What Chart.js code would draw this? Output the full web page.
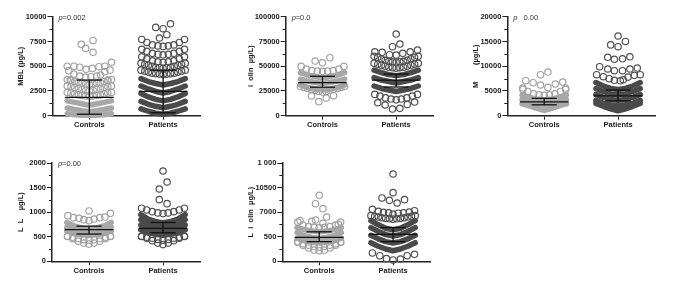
<!DOCTYPE html>
<html>
<head>
<meta charset="utf-8">
<script src="https://cdn.jsdelivr.net/npm/chart.js@4/dist/chart.umd.min.js"></script>
<style>
html,body{margin:0;padding:0;background:#fff;overflow:hidden;}
#wrap{position:relative;width:685px;height:283px;}
canvas{position:absolute;}
</style>
</head>
<body>
<div id="wrap"></div>
<script>
// ── SHARED ──
const groups = ['Controls','Patients'];
const openX = [0,.07,.145,.22,.29];               // half swarm, mirrored when built
const denseX = [0,.05,.1,.15,.2,.25,.3];
const bandX = [0,.1,.2,.3];

// ── MBL ──
const mblTicks = [0,2500,5000,7500,10000];
const mblTickLabels = ['0','2500','5000','7500','10000'];
const mblMinor = [1250,3750,6250,8750];
const mblMedian = [1850,2450], mblQ1 = [150,300], mblQ3 = [3600,4600];
const mblCtrlLoose = [[-.11,7200],[-.05,6800],[.05,7600],[.05,6400],[-.3,5000],[-.21,5000],[-.13,4900],[-.045,4680],[.04,4780],[.13,4950],[.21,5000],[.3,5400],[-.28,4550],[.28,4600],[.21,4450],[-.21,4200],[-.13,4000],[-.05,3870],[.02,3940],[.1,4000],[.15,4100],[-.26,3600],[.25,3600]];
const mblCtrlOpen = [];
const mblCtrlDense = [[3150,3200,3300,3350,3450,3550,3650],[2500,2550,2650,2750,2850,2950,3000],[1950,2000,2050,2100,2200,2300,2350]];
const mblCtrlBands = [[1050,1200,1350,1500],[400,500,620,780],[50,50,100,200]];
const mblPatLoose = [[-.1,8920],[0,8790],[.1,9290],[-.05,7850],[.05,8180]];
const mblPatOpen = [[7000,7050,7150,7400,7700],[6150,6200,6300,6500,6700],[5400,5450,5550,5750,5950]];
const mblPatDense = [[4800,4850,4900,5000,5100,5200,5300],[4150,4200,4250,4300,4400,4500,4600]];
const mblPatBands = [[3100,3250,3450,3750],[2300,2450,2700,3000],[1500,1650,1900,2250],[800,950,1150,1450],[150,250,450,700]];

// ── second panel ──
const p2Ticks = [0,25000,50000,75000,100000];
const p2TickLabels = ['0','25000','50000','75000','100000'];
const p2Minor = [12500,37500,62500,87500];
const p2Median = [33500,36000], p2Q1 = [28800,29000], p2Q3 = [39800,42000];
const p2CtrlLoose = [[-.1,55200],[0,53500],[.1,58600],[-.15,20000],[.05,17900],[.15,20200],[-.05,14200]];
const p2CtrlOpen = [[44800,45000,45500,47000,49800]];
const p2CtrlDense = [[24000,24500,25500,26500,27500,28500,29500]];
const p2CtrlBands = [[38000,39500,41000,43500],[32500,33500,35000,37000],[26000,27000,28500,31000]];
const p2PatLoose = [[0,82500],[-.05,69700],[.05,72400],[-.29,64600],[-.19,64000],[-.09,61600],[0,61300],[.09,63000],[.19,64600],[.29,66300],[-.25,13100],[-.15,10800],[-.05,6700],[.05,7400],[.15,11400],[.25,13800]];
const p2PatOpen = [[16000,16800,18000,19800,21500]];
const p2PatDense = [[54000,54500,55000,56000,57500,59000,60000],[48000,48500,49000,50000,51000,52000,53000]];
const p2PatBands = [[40500,41500,43500,46000],[33000,34500,36000,38500],[24500,26000,27500,30000]];

// ── third panel ──
const p3Ticks = [0,5000,10000,15000,20000];
const p3TickLabels = ['0','5000','10000','15000','20000'];
const p3Minor = [2500,7500,12500,17500];
const p3Median = [2780,4000], p3Q1 = [2200,3000], p3Q3 = [3500,5200];
const p3CtrlLoose = [[-.05,8280],[.05,8820],[-.25,7070],[-.15,6670],[-.05,6200],[.05,5720],[.15,6400],[.25,6800],[-.29,5590],[.29,5590]];
const p3CtrlOpen = [[4100,4200,4400,4900,5300]];
const p3CtrlDense = [];
const p3CtrlBands = [[3200,3400,3700,4200],[2300,2500,2800,3300],[1100,1500,2000,2400]];
const p3PatLoose = [[0,16100],[-.1,14300],[0,13940],[.1,15000],[-.14,11800],[-.05,11400],[.06,11500],[.16,11900],[-.25,9900],[-.14,9430],[-.05,9090],[.06,9090],[.16,9430],[.26,9630],[-.29,8280],[-.2,7880],[-.12,7470],[-.05,7150],[.03,7050],[.07,7250],[.135,7800],[.22,8150],[.3,8280]];
const p3PatOpen = [];
const p3PatDense = [];
const p3PatBands = [[5300,5500,6000,6700],[4200,4400,4900,5500],[3100,3300,3700,4300],[2000,2200,2500,3100],[1000,1400,1900,2500]];

// ── fourth panel ──
const p4Ticks = [0,500,1000,1500,2000];
const p4TickLabels = ['0','500','1000','1500','2000'];
const p4Minor = [250,750,1250,1750];
const p4Median = [645,670], p4Q1 = [555,580], p4Q3 = [715,790];
const p4CtrlLoose = [[0,1024],[-.285,929],[-.21,888],[-.135,875],[-.07,847],[0,827],[.07,861],[.145,888],[.215,900],[.29,976]];
const p4CtrlOpen = [[350,370,410,460,505],[430,440,465,490,510]];
const p4CtrlDense = [];
const p4CtrlBands = [[660,680,720,790],[590,610,640,700],[530,540,570,620]];
const p4PatLoose = [[0,1837],[.055,1613],[-.05,1471],[-.05,1254],[.055,1173]];
const p4PatOpen = [[970,985,1010,1045,1080],[340,370,420,470,505],[430,445,470,490,510]];
const p4PatDense = [];
const p4PatBands = [[780,810,860,950],[690,720,770,850],[610,630,670,740],[530,550,580,640]];

// ── fifth panel ──
const p5Ticks = [0,3500,7000,10500,14000];
const p5TickLabels = ['0','500','7000','10500','1 000'];
const p5Minor = [1750,5250,8750,12250];
const p5Median = [3400,3840], p5Q1 = [2800,2800], p5Q3 = [4200,4800];
const p5CtrlLoose = [[0,9400],[-.05,8200],[.05,7500],[.1,6300],[-.1,5700],[-.05,5880],[.05,5400],[-.26,5790],[.26,5270]];
const p5CtrlOpen = [[4800,4850,4950,5150,5600],[1500,1600,1900,2300,2700],[2000,2100,2300,2500,2750]];
const p5CtrlDense = [];
const p5CtrlBands = [[4200,4300,4500,4800],[3300,3400,3650,4100],[2600,2700,2900,3300]];
const p5PatLoose = [[0,12430],[0,9780],[-.15,9020],[-.05,8680],[.055,8300],[.155,8780],[-.28,7400],[-.2,7120],[-.13,6980],[-.06,6900],[0,6720],[.07,6850],[.14,6900],[.22,7000],[.29,7210],[-.28,1190],[-.18,800],[-.09,380],[0,190],[.1,330],[.19,800],[.29,1000]];
const p5PatOpen = [];
const p5PatDense = [[6000,6050,6100,6200,6300,6400,6500]];
const p5PatBands = [[4500,4700,5200,5800],[3600,3800,4250,4800],[2600,2800,3200,3700],[1500,1750,2150,2650]];

// ── BUILD ──
function mirror(xs, half, cx){
  const pts = [];
  for(let i=xs.length-1;i>0;i--) pts.push({x:cx-xs[i],y:half[i]});
  for(let i=0;i<xs.length;i++) pts.push({x:cx+xs[i],y:half[i]});
  return pts;
}
function seg(x0,y0,x1,y1){
  return {type:'scatter',data:[{x:x0,y:y0},{x:x1,y:y1}],showLine:true,borderColor:'#111',borderWidth:1.3,pointRadius:0,clip:false};
}
function groupSets(i, s, loose, open, dense, bands){
  const cx = i+1;
  const col = i ? '#4a4a4a' : '#a8a8a8';
  const ring = i ? '#505050' : '#a2a2a2';
  const circle = {type:'scatter',pointRadius:3.2,pointBorderWidth:1.2,pointBorderColor:ring,pointBackgroundColor:'rgba(255,255,255,0)',showLine:false,clip:false};
  const sets = [
    seg(cx-.33,s.median[i],cx+.33,s.median[i]),
    seg(cx-.17,s.q3[i],cx+.17,s.q3[i]),
    seg(cx-.17,s.q1[i],cx+.17,s.q1[i]),
    seg(cx,s.q1[i],cx,s.q3[i])
  ];
  sets.push({...circle,data:loose.map(p=>({x:cx+p[0],y:p[1]}))});
  open.forEach(r=>sets.push({...circle,data:mirror(openX,r,cx)}));
  dense.forEach(r=>sets.push({...circle,data:mirror(denseX,r,cx)}));
  bands.forEach(r=>sets.push({type:'scatter',data:mirror(bandX,r,cx),showLine:true,borderColor:col,borderWidth:5.5,borderCapStyle:'round',borderJoinStyle:'round',pointRadius:0,clip:false}));
  return sets;
}

const axisPlugin = {
  id:'panelExtras',
  afterDraw(chart){
    const o = chart.options.plugins.panelExtras;
    const c = chart.ctx, y = chart.scales.y, a = chart.chartArea;
    c.save();
    c.strokeStyle = '#222'; c.lineWidth = 1;
    o.minor.forEach(v=>{
      const py = Math.round(y.getPixelForValue(v))+.5;
      c.beginPath(); c.moveTo(a.left-3,py); c.lineTo(a.left,py); c.stroke();
    });
    if(o.p){
      c.fillStyle = '#333'; c.textBaseline = 'middle';
      c.font = 'italic 7.5px "Liberation Sans"';
      c.fillText('p', a.left+o.px, a.top+1);
      c.font = '7.5px "Liberation Sans"';
      c.fillText(o.p, a.left+o.px+4, a.top+1);
    }
    c.restore();
  }
};

function panel(o){
  const cv = document.createElement('canvas');
  cv.width = o.w; cv.height = o.h;
  cv.style.left = o.left+'px'; cv.style.top = o.top+'px';
  document.getElementById('wrap').appendChild(cv);
  const bold = {family:'"Liberation Sans"',size:7.5,weight:'bold'};
  new Chart(cv,{
    data:{datasets:o.sets},
    plugins:[axisPlugin],
    options:{
      responsive:false,animation:false,devicePixelRatio:1,
      layout:{padding:{top:o.y1-o.top,right:o.left+o.w-o.x1,left:0,bottom:0}},
      plugins:{legend:{display:false},tooltip:{enabled:false},panelExtras:{minor:o.minor,p:o.p,px:o.px||6}},
      scales:{
        x:{type:'linear',min:.5,max:2.5,
          afterBuildTicks(s){s.ticks=[{value:1},{value:2}];},
          afterFit(s){s.height=o.top+o.h-o.y0;},
          border:{color:'#222',width:1.5},
          grid:{drawOnChartArea:false,tickLength:4,tickColor:'#222'},
          ticks:{color:'#1a1a1a',font:bold,padding:1,maxRotation:0,autoSkip:false,callback:v=>groups[v-1]}
        },
        y:{type:'linear',min:o.ticks[0],max:o.ticks[o.ticks.length-1],
          afterBuildTicks(s){s.ticks=o.ticks.map(v=>({value:v}));},
          afterFit(s){s.width=o.x0-o.left;},
          border:{color:'#222',width:1.5},
          grid:{drawOnChartArea:false,tickLength:5,tickColor:'#222'},
          ticks:{color:'#1a1a1a',font:bold,padding:1,autoSkip:false,callback:v=>o.labels[o.ticks.indexOf(v)]},
          title:{display:true,text:o.title,color:'#1a1a1a',font:bold,padding:{top:o.titlePad,bottom:0}}
        }
      }
    }
  });
}

const s1 = {median:mblMedian,q1:mblQ1,q3:mblQ3};
const s2 = {median:p2Median,q1:p2Q1,q3:p2Q3};
const s3 = {median:p3Median,q1:p3Q1,q3:p3Q3};
const s4 = {median:p4Median,q1:p4Q1,q3:p4Q3};
const s5 = {median:p5Median,q1:p5Q1,q3:p5Q3};

panel({left:0,top:0,w:230,h:140,x0:52.5,x1:200,y0:115.7,y1:16.7,titlePad:16,ticks:mblTicks,labels:mblTickLabels,minor:mblMinor,p:'=0.002',title:'MBL (µg/L)',
  sets:[...groupSets(0,s1,mblCtrlLoose,mblCtrlOpen,mblCtrlDense,mblCtrlBands),...groupSets(1,s1,mblPatLoose,mblPatOpen,mblPatDense,mblPatBands)]});
panel({left:230,top:0,w:225,h:140,x0:285.7,x1:433,y0:115.7,y1:16.7,titlePad:16,ticks:p2Ticks,labels:p2TickLabels,minor:p2Minor,p:'=0.0',title:'i  olin  µg/L)',
  sets:[...groupSets(0,s2,p2CtrlLoose,p2CtrlOpen,p2CtrlDense,p2CtrlBands),...groupSets(1,s2,p2PatLoose,p2PatOpen,p2PatDense,p2PatBands)]});
panel({left:455,top:0,w:230,h:140,x0:507.3,x1:655,y0:115.7,y1:16.7,titlePad:16,ticks:p3Ticks,labels:p3TickLabels,minor:p3Minor,p:'   0.00',title:'M        (µg/L)',
  sets:[...groupSets(0,s3,p3CtrlLoose,p3CtrlOpen,p3CtrlDense,p3CtrlBands),...groupSets(1,s3,p3PatLoose,p3PatOpen,p3PatDense,p3PatBands)]});
panel({left:0,top:143,w:230,h:140,x0:52,x1:200,y0:261.3,y1:163,titlePad:16,ticks:p4Ticks,labels:p4TickLabels,minor:p4Minor,p:'=0.00',title:'L  L    µg/L)',
  sets:[...groupSets(0,s4,p4CtrlLoose,p4CtrlOpen,p4CtrlDense,p4CtrlBands),...groupSets(1,s4,p4PatLoose,p4PatOpen,p4PatDense,p4PatBands)]});
panel({left:230,top:143,w:225,h:140,x0:282.3,x1:430,y0:261.3,y1:163,titlePad:16,ticks:p5Ticks,labels:p5TickLabels,minor:p5Minor,p:'',title:'L  i  olin  µg/L)',
  sets:[...groupSets(0,s5,p5CtrlLoose,p5CtrlOpen,p5CtrlDense,p5CtrlBands),...groupSets(1,s5,p5PatLoose,p5PatOpen,p5PatDense,p5PatBands)]});
</script>
</body>
</html>
